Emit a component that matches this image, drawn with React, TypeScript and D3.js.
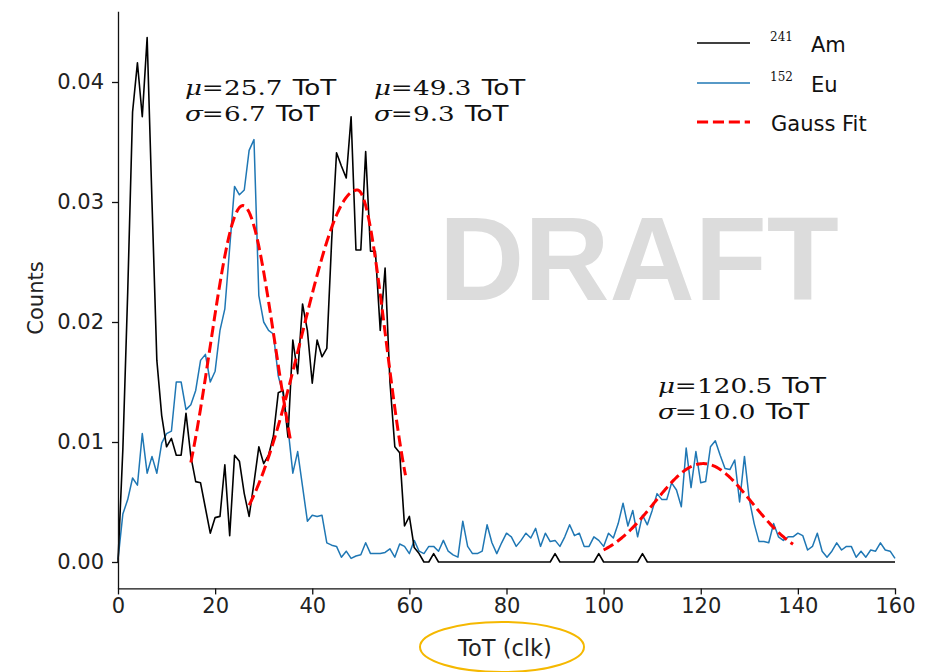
import React, { useEffect, useRef } from "react";
import * as d3 from "d3";

// Normalised ToT spectra, one value per clk bin (bin index = ToT in clk, 0..160)
const amCounts: number[] = [
  0.0, 0.0094, 0.0225, 0.0375, 0.0416, 0.0371, 0.0437, 0.03, 0.0168, 0.0122,
  0.0096, 0.0103, 0.0089, 0.0089, 0.0124, 0.0088, 0.0067, 0.0066, 0.0045, 0.0024,
  0.0037, 0.0038, 0.0081, 0.0022, 0.0089, 0.0084, 0.0057, 0.0038, 0.0066, 0.0096,
  0.0082, 0.0089, 0.0105, 0.0141, 0.0143, 0.0104, 0.0185, 0.0157, 0.0215, 0.0193,
  0.0149, 0.0185, 0.0171, 0.0178, 0.0268, 0.0341, 0.033, 0.032, 0.0371, 0.026,
  0.026, 0.0342, 0.0259, 0.0259, 0.0193, 0.0245, 0.015, 0.0096, 0.0091, 0.003,
  0.0038, 0.0012, 0.0007, 0.0, 0.0, 0.0007, 0.0, 0.0, 0.0, 0.0,
  0.0, 0.0, 0.0, 0.0, 0.0, 0.0, 0.0, 0.0, 0.0, 0.0,
  0.0, 0.0, 0.0, 0.0, 0.0, 0.0, 0.0, 0.0, 0.0, 0.0,
  0.0007, 0.0, 0.0, 0.0, 0.0, 0.0, 0.0, 0.0, 0.0, 0.0007,
  0.0, 0.0, 0.0, 0.0, 0.0, 0.0, 0.0, 0.0, 0.0007, 0.0,
  0.0, 0.0, 0.0, 0.0, 0.0, 0.0, 0.0, 0.0, 0.0, 0.0,
  0.0, 0.0, 0.0, 0.0, 0.0, 0.0, 0.0, 0.0, 0.0, 0.0,
  0.0, 0.0, 0.0, 0.0, 0.0, 0.0, 0.0, 0.0, 0.0, 0.0,
  0.0, 0.0, 0.0, 0.0, 0.0, 0.0, 0.0, 0.0, 0.0, 0.0,
  0.0, 0.0, 0.0, 0.0, 0.0, 0.0, 0.0, 0.0, 0.0, 0.0,
  0.0,
];

const euCounts: number[] = [
  0.0002, 0.004, 0.0052, 0.007, 0.0064, 0.0107, 0.0074, 0.0088, 0.0074, 0.0099,
  0.0107, 0.0109, 0.015, 0.015, 0.0127, 0.0131, 0.0143, 0.0168, 0.0173, 0.015,
  0.0159, 0.0193, 0.0211, 0.0262, 0.0313, 0.0306, 0.031, 0.0343, 0.0352, 0.0222,
  0.02, 0.0193, 0.019, 0.0155, 0.014, 0.0112, 0.0074, 0.0092, 0.0063, 0.0034,
  0.0039, 0.0038, 0.0039, 0.0016, 0.0014, 0.0013, 0.0004, 0.0009, 0.0003, 0.0005,
  0.0006, 0.0016, 0.0007, 0.0007, 0.0007, 0.0008, 0.0011, 0.0004, 0.0015, 0.0013,
  0.0007, 0.0018, 0.0009, 0.0007, 0.0013, 0.0013, 0.0009, 0.0018, 0.0009, 0.0006,
  0.0004, 0.0034, 0.0013, 0.0007, 0.0007, 0.0009, 0.0031, 0.0016, 0.0007, 0.0016,
  0.0024, 0.0021, 0.0013, 0.0018, 0.0024, 0.002, 0.0028, 0.0013, 0.0024, 0.0017,
  0.0018, 0.0013, 0.0021, 0.0031, 0.0022, 0.0024, 0.0013, 0.0013, 0.0021, 0.0018,
  0.0013, 0.0024, 0.002, 0.0032, 0.0049, 0.003, 0.0043, 0.0021, 0.0039, 0.0031,
  0.0043, 0.0057, 0.0052, 0.0052, 0.0066, 0.006, 0.0046, 0.0095, 0.0062, 0.0092,
  0.0066, 0.0067, 0.0096, 0.0101, 0.0089, 0.0078, 0.0077, 0.0085, 0.005, 0.0088,
  0.0052, 0.0032, 0.0017, 0.0017, 0.0016, 0.0032, 0.0021, 0.0018, 0.0021, 0.0021,
  0.0024, 0.0022, 0.001, 0.0013, 0.0024, 0.0009, 0.0004, 0.0009, 0.0016, 0.001,
  0.0013, 0.0013, 0.0004, 0.0009, 0.0004, 0.001, 0.0009, 0.0016, 0.001, 0.0009,
  0.0003,
];

// Photopeak fits: quoted mean / width, peak height and fitted ToT window
const fitMu: number[] = [25.7, 49.3, 120.5];
const fitSigma: number[] = [6.7, 9.3, 10.0];
const fitAmp: number[] = [0.0297, 0.031, 0.0082];
// The Am peak has a slow rising flank and a sharp falling edge, so its
// fitted curve uses separate widths on either side of the peak.
const fitSigmaLeft: number[] = [6.7, 11.5, 10.0];
const fitSigmaRight: number[] = [6.7, 5.8, 10.0];
const fitFrom: number[] = [15, 27, 100];
const fitTo: number[] = [35.5, 59.2, 139];

const xTicks: number[] = [0, 20, 40, 60, 80, 100, 120, 140, 160];
const yTicks: number[] = [0.0, 0.01, 0.02, 0.03, 0.04];

const W = 941;
const H = 672;
const SANS = "'DejaVu Sans', sans-serif";
const SERIF = "'DejaVu Serif', serif";

const x = d3.scaleLinear().domain([0, 160]).range([118, 895]);
const y = d3.scaleLinear().domain([-0.0022, 0.0459]).range([588.4, 11.2]);

const spectrumLine = d3
  .line<number>()
  .x((_, i) => x(i))
  .y((d) => y(d));

function fitCurve(k: number): string {
  const mu = fitMu[k];
  const pts: [number, number][] = [];
  const n = 200;
  for (let j = 0; j <= n; j++) {
    const t = fitFrom[k] + ((fitTo[k] - fitFrom[k]) * j) / n;
    const s = t < mu ? fitSigmaLeft[k] : fitSigmaRight[k];
    pts.push([t, fitAmp[k] * Math.exp(-((t - mu) ** 2) / (2 * s * s))]);
  }
  return (
    d3
      .line<[number, number]>()
      .x((d) => x(d[0]))
      .y((d) => y(d[1]))(pts) || ""
  );
}

// Fit parameter annotation, set in a slightly widened math-style face
function FitLabel({ k, lx, ly }: { k: number; lx: number; ly: number }) {
  const row = (sym: string, val: number, yy: number) => (
    <text x={0} y={yy}>
      <tspan fontFamily={SERIF} fontStyle="italic">{sym}</tspan>
      <tspan fontFamily={SERIF} x={13}>=</tspan>
      <tspan fontFamily={SERIF} x={30.5}>{val.toFixed(1)}</tspan>
      <tspan fontFamily={SANS} dx={8}>ToT</tspan>
    </text>
  );
  return (
    <g transform={`translate(${lx},${ly}) scale(1.28,1)`} fontSize={20.5} fill="#111">
      {row("μ", fitMu[k], 0)}
      {row("σ", fitSigma[k], 26)}
    </g>
  );
}

export default function App() {
  const xAxisRef = useRef<SVGGElement>(null);
  const yAxisRef = useRef<SVGGElement>(null);

  useEffect(() => {
    document.body.style.margin = "0";
    const gx = d3.select(xAxisRef.current!);
    gx.call(
      d3.axisBottom(x).tickValues(xTicks).tickSize(6).tickSizeOuter(0).tickPadding(4)
    );
    const gy = d3.select(yAxisRef.current!);
    gy.call(
      d3
        .axisLeft(y)
        .tickValues(yTicks)
        .tickFormat(d3.format(".2f"))
        .tickSize(6)
        .tickSizeOuter(0)
        .tickPadding(8)
    );
    [gx, gy].forEach((g) => {
      g.attr("font-family", SANS).attr("font-size", 21);
      g.selectAll("path.domain").attr("stroke", "#111").attr("stroke-width", 1.3);
      g.selectAll(".tick line").attr("stroke", "#111").attr("stroke-width", 1.3);
      g.selectAll(".tick text").attr("fill", "#222");
    });
  }, []);

  return (
    <svg
      width={W}
      height={H}
      style={{ position: "absolute", left: 0, top: 0, background: "#fff" }}
    >
      <text
        x={439}
        y={299.5}
        fontFamily="'Liberation Sans', Arial, sans-serif"
        fontWeight="bold"
        fontSize={118}
        fill="#dcdcdc"
      >
        DRAFT
      </text>

      <path
        d={spectrumLine(euCounts) || ""}
        fill="none"
        stroke="#1f77b4"
        strokeWidth={1.5}
        strokeLinejoin="round"
      />
      <path
        d={spectrumLine(amCounts) || ""}
        fill="none"
        stroke="#000"
        strokeWidth={1.6}
        strokeLinejoin="round"
      />
      {fitMu.map((_, k) => (
        <path
          key={k}
          d={fitCurve(k)}
          fill="none"
          stroke="#ff0000"
          strokeWidth={3}
          strokeDasharray="11.1 4.8"
        />
      ))}

      <g ref={xAxisRef} transform={`translate(0,${y.range()[0]})`} />
      <g ref={yAxisRef} transform={`translate(${x.range()[0]},0)`} />

      <text
        x={505}
        y={656}
        textAnchor="middle"
        fontFamily={SANS}
        fontSize={22.5}
        fill="#222"
      >
        ToT (clk)
      </text>
      <ellipse
        cx={502}
        cy={647}
        rx={82}
        ry={25}
        fill="none"
        stroke="#f5b800"
        strokeWidth={2}
      />
      <text
        transform={`translate(43,298) rotate(-90)`}
        textAnchor="middle"
        fontFamily={SANS}
        fontSize={21}
        fill="#222"
      >
        Counts
      </text>

      <FitLabel k={0} lx={185} ly={95} />
      <FitLabel k={1} lx={374} ly={95} />
      <FitLabel k={2} lx={658} ly={393} />

      {/* legend */}
      <g fontSize={21} fill="#111">
        <line x1={697} x2={750} y1={43} y2={43} stroke="#000" strokeWidth={1.5} />
        <text x={770} y={52}>
          <tspan fontFamily={SERIF} fontSize={12} dy={-11}>241</tspan>
          <tspan fontFamily={SANS} x={811} dy={11}>Am</tspan>
        </text>
        <line x1={697} x2={750} y1={83} y2={83} stroke="#1f77b4" strokeWidth={1.5} />
        <text x={770} y={92}>
          <tspan fontFamily={SERIF} fontSize={12} dy={-11}>152</tspan>
          <tspan fontFamily={SANS} x={811} dy={11}>Eu</tspan>
        </text>
        <line
          x1={697}
          x2={750}
          y1={122}
          y2={122}
          stroke="#ff0000"
          strokeWidth={3}
          strokeDasharray="11.1 4.8"
        />
        <text x={771} y={131} fontFamily={SANS}>
          Gauss Fit
        </text>
      </g>
    </svg>
  );
}
